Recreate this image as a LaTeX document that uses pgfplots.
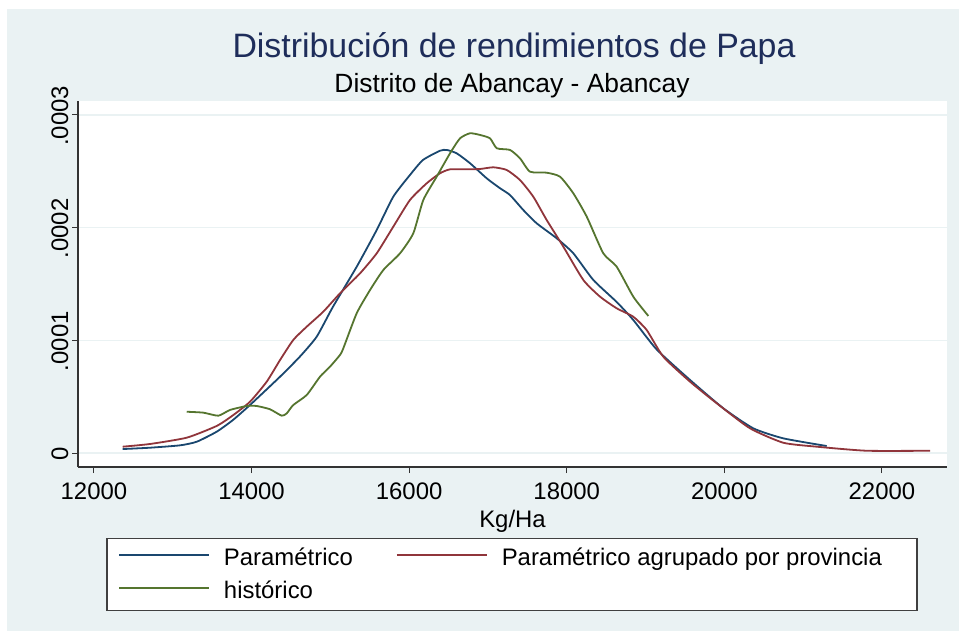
\documentclass[border=0pt]{standalone}
\usepackage{fontspec}
\setmainfont{Liberation Sans}
\usepackage{pgfplots}
\usepackage{pgfplotstable}
\pgfplotsset{compat=1.18}
\definecolor{bgc}{RGB}{234,242,243}
\definecolor{gridc}{RGB}{234,242,243}
\definecolor{snavy}{RGB}{26,71,111}
\definecolor{smaroon}{RGB}{144,53,59}
\definecolor{sgreen}{RGB}{85,117,47}
\definecolor{titlec}{RGB}{30,45,90}

\pgfplotstableread{
x y
12365 0.035e-4
12712 0.047e-4
13093 0.068e-4
13305 0.100e-4
13558 0.189e-4
13765 0.293e-4
13981 0.426e-4
14362 0.677e-4
14615 0.856e-4
14827 1.032e-4
15034 1.298e-4
15335 1.653e-4
15589 1.979e-4
15799 2.274e-4
16011 2.467e-4
16176 2.600e-4
16392 2.682e-4
16477 2.689e-4
16604 2.659e-4
16773 2.571e-4
16985 2.437e-4
17154 2.349e-4
17280 2.289e-4
17449 2.156e-4
17619 2.038e-4
17873 1.905e-4
18084 1.772e-4
18338 1.535e-4
18634 1.340e-4
18845 1.180e-4
19140 0.920e-4
19565 0.648e-4
19987 0.397e-4
20368 0.219e-4
20749 0.130e-4
21299 0.062e-4
}\parametrico

\pgfplotstableread{
x y
12365 0.056e-4
12712 0.080e-4
13178 0.136e-4
13558 0.240e-4
13769 0.337e-4
13981 0.455e-4
14193 0.633e-4
14362 0.825e-4
14530 1.003e-4
14701 1.121e-4
14911 1.254e-4
15123 1.417e-4
15377 1.594e-4
15589 1.772e-4
15799 2.008e-4
16011 2.245e-4
16223 2.393e-4
16392 2.482e-4
16519 2.517e-4
16731 2.517e-4
16900 2.520e-4
17069 2.535e-4
17239 2.511e-4
17407 2.422e-4
17576 2.274e-4
17746 2.067e-4
17957 1.831e-4
18211 1.535e-4
18423 1.387e-4
18634 1.284e-4
18845 1.209e-4
19015 1.091e-4
19226 0.854e-4
19565 0.633e-4
19904 0.441e-4
20326 0.219e-4
20749 0.091e-4
21173 0.056e-4
21807 0.020e-4
22611 0.020e-4
}\agrupado

\pgfplotstableread{
x y
13178 0.366e-4
13388 0.358e-4
13579 0.331e-4
13727 0.382e-4
13939 0.417e-4
14066 0.417e-4
14235 0.388e-4
14383 0.331e-4
14447 0.352e-4
14530 0.426e-4
14701 0.515e-4
14869 0.677e-4
14996 0.766e-4
15123 0.870e-4
15165 0.929e-4
15335 1.240e-4
15504 1.446e-4
15673 1.624e-4
15885 1.772e-4
16053 1.949e-4
16180 2.245e-4
16350 2.452e-4
16519 2.659e-4
16646 2.792e-4
16773 2.837e-4
16900 2.822e-4
17027 2.792e-4
17112 2.704e-4
17280 2.689e-4
17407 2.615e-4
17534 2.496e-4
17746 2.487e-4
17915 2.452e-4
18084 2.304e-4
18254 2.097e-4
18464 1.772e-4
18634 1.653e-4
18845 1.387e-4
19036 1.216e-4
}\historico

\begin{document}
\begin{tikzpicture}
\useasboundingbox (0,0) rectangle (959bp,631bp);
\fill[white] (0,0) rectangle (959bp,631bp);
\fill[bgc] (7bp,0) rectangle (959bp,622bp);
\begin{axis}[
  at={(78bp,164bp)}, anchor=south west,
  scale only axis, width=869bp, height=366bp,
  xmin=11798, xmax=22826, ymin=-1.242e-5, ymax=3.1233e-4,
  axis x line*=bottom, axis y line*=left,
  axis line style={draw=black!80, line width=1.2bp},
  axis background/.style={fill=white},
  xtick={12000,14000,16000,18000,20000,22000},
  xticklabels={12000,14000,16000,18000,20000,22000},
  ytick={0,1e-4,2e-4,3e-4},
  yticklabels={0,.0001,.0002,.0003},
  scaled x ticks=false, scaled y ticks=false,
  tick align=outside, major tick length=6bp,
  tick style={draw=black!80, line width=1bp},
  ymajorgrids, grid style={draw=gridc, line width=1.5bp},
  tick label style={font=\fontsize{24}{26}\selectfont},
  xticklabel style={yshift=-6bp},
  yticklabel style={rotate=90, anchor=south, xshift=-1bp},
  xlabel={Kg/Ha},
  xlabel style={font=\fontsize{24}{26}\selectfont, yshift=-4bp},
  legend columns=2,
  legend image code/.code={\draw[#1] (0bp,3bp) -- (90bp,3bp);},
  legend style={at={(0.4994,-0.193)}, anchor=north, draw=black!75, line width=1.5bp,
    fill=white, inner xsep=11bp, inner ysep=8bp, row sep=10bp,
    font=\fontsize{24}{26}\selectfont,
    /tikz/every odd column/.append style={column sep=14bp},
    /tikz/every even column/.append style={column sep=14bp},
    nodes={inner sep=0pt, text height=19bp, text depth=4bp, anchor=west}},
  legend cell align=left,
  every axis plot/.append style={smooth, tension=0.35},
]
\addplot[snavy, line width=1.8bp] table[x=x,y=y] {\parametrico};
\addlegendentry{\makebox[158bp][l]{Paramétrico}}
\addplot[smaroon, line width=1.8bp] table[x=x,y=y] {\agrupado};
\addlegendentry{\makebox[404bp][l]{Paramétrico agrupado por provincia}}
\addplot[sgreen, line width=1.8bp] table[x=x,y=y] {\historico};
\addlegendentry{histórico}
\end{axis}
\node[anchor=base, font=\fontsize{34}{36}\selectfont, text=titlec] at (514bp,573bp) {Distribución de rendimientos de Papa};
\node[anchor=base, font=\fontsize{26.5}{28}\selectfont, text=black] at (512bp,538bp) {Distrito de Abancay - Abancay};
\end{tikzpicture}
\end{document}
